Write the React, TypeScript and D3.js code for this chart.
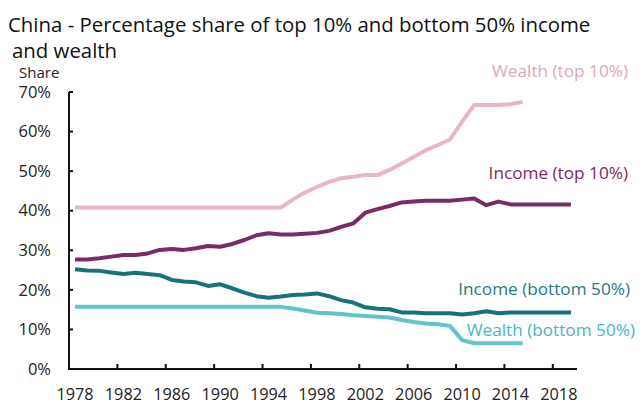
import React, { useEffect, useRef } from "react";
import * as d3 from "d3";

// years on the category axis
const years = d3.range(1978, 2020);
const tickYears = [1978, 1982, 1986, 1990, 1994, 1998, 2002, 2006, 2010, 2014, 2018];
const yTicks = [0, 10, 20, 30, 40, 50, 60, 70];

// shares in %
const wealthTop10 = [
  40.8, 40.8, 40.8, 40.8, 40.8, 40.8, 40.8, 40.8, 40.8, 40.8, 40.8, 40.8, 40.8, 40.8, 40.8, 40.8, 40.8, 40.8,
  42.8, 44.6, 46.0, 47.3, 48.2, 48.6, 49.0, 49.0, 50.3, 51.9, 53.6, 55.3, 56.6, 58.0, 62.5, 66.7, 66.7, 66.7, 66.9, 67.5,
];
const incomeTop10 = [
  27.7, 27.7, 28.0, 28.4, 28.8, 28.8, 29.2, 30.1, 30.3, 30.1, 30.5, 31.1, 30.9, 31.6, 32.6, 33.8, 34.3, 34.0,
  34.0, 34.2, 34.4, 34.9, 35.9, 36.8, 39.5, 40.4, 41.2, 42.1, 42.3, 42.5, 42.5, 42.5, 42.8, 43.1, 41.4, 42.3,
  41.6, 41.6, 41.6, 41.6, 41.6, 41.6,
];
const incomeBottom50 = [
  25.2, 24.9, 24.8, 24.4, 24.0, 24.3, 24.0, 23.7, 22.5, 22.1, 21.9, 21.0, 21.4, 20.4, 19.3, 18.4, 18.0, 18.3,
  18.7, 18.8, 19.1, 18.4, 17.4, 16.8, 15.6, 15.2, 15.1, 14.3, 14.3, 14.1, 14.1, 14.1, 13.8, 14.1, 14.6, 14.1,
  14.3, 14.3, 14.3, 14.3, 14.3, 14.3,
];
const wealthBottom50 = [
  15.7, 15.7, 15.7, 15.7, 15.7, 15.7, 15.7, 15.7, 15.7, 15.7, 15.7, 15.7, 15.7, 15.7, 15.7, 15.7, 15.7, 15.7,
  15.3, 14.8, 14.2, 14.1, 13.9, 13.6, 13.4, 13.2, 13.0, 12.4, 11.9, 11.5, 11.3, 10.9, 7.3, 6.5, 6.5, 6.5, 6.5, 6.5,
];

const series = [
  { name: "Wealth (top 10%)", values: wealthTop10, color: "#e9b5c8", label: "#dba8bb", lx: 628, ly: 77 },
  { name: "Income (top 10%)", values: incomeTop10, color: "#7b2a63", label: "#7b2a63", lx: 628, ly: 179 },
  { name: "Income (bottom 50%)", values: incomeBottom50, color: "#17737a", label: "#1f7b82", lx: 630, ly: 295 },
  { name: "Wealth (bottom 50%)", values: wealthBottom50, color: "#62c3cb", label: "#49b6bf", lx: 635, ly: 336 },
];

const font = "'Open Sans', sans-serif";

export default function App() {
  const ref = useRef<SVGSVGElement>(null);

  useEffect(() => {
    const svg = d3.select(ref.current);
    svg.selectAll("*").remove();

    const x = d3.scaleBand<number>().domain(years).range([69, 577]);
    const y = d3.scaleLinear().domain([0, 70]).range([369, 92]);
    const cx = (yr: number) => (x(yr) as number) + x.bandwidth() / 2;

    // title
    svg.append("text").attr("x", 8).attr("y", 32).attr("font-size", 20.4)
      .attr("fill", "#111").attr("font-family", font)
      .text("China - Percentage share of top 10% and bottom 50% income");
    svg.append("text").attr("x", 12).attr("y", 58).attr("font-size", 20.4)
      .attr("fill", "#111").attr("font-family", font).text("and wealth");
    svg.append("text").attr("x", 19).attr("y", 77.5).attr("font-size", 15)
      .attr("fill", "#222").attr("font-family", font).text("Share");

    // lines
    const line = d3.line<number>()
      .x((d, i) => cx(years[i]))
      .y((d) => y(d));
    series.forEach((s) => {
      svg.append("path").datum(s.values).attr("d", line)
        .attr("fill", "none").attr("stroke", s.color)
        .attr("stroke-width", 4).attr("stroke-linejoin", "round");
      svg.append("text").attr("x", s.lx).attr("y", s.ly)
        .attr("text-anchor", "end").attr("font-size", 17.2)
        .attr("fill", s.label).attr("font-family", font).text(s.name);
    });

    // axes
    const axis = svg.append("g").attr("stroke", "#111").attr("stroke-width", 2);
    axis.append("line").attr("x1", 69).attr("x2", 69).attr("y1", 92).attr("y2", 369);
    axis.append("line").attr("x1", 68).attr("x2", 577).attr("y1", 369).attr("y2", 369);
    yTicks.forEach((t) => {
      axis.append("line").attr("x1", 69).attr("x2", 73).attr("y1", y(t)).attr("y2", y(t));
      svg.append("text").attr("x", 51).attr("y", y(t)).attr("dy", "0.35em")
        .attr("text-anchor", "end").attr("font-size", 16.5).attr("fill", "#222")
        .attr("font-family", font).text(t + "%");
    });
    tickYears.forEach((t) => {
      const tx = x(t) as number;
      if (t > 1978) axis.append("line").attr("x1", tx).attr("x2", tx).attr("y1", 369).attr("y2", 364);
      svg.append("text").attr("x", cx(t)).attr("y", 399.5)
        .attr("text-anchor", "middle").attr("font-size", 16.3).attr("fill", "#222")
        .attr("font-family", font).text(t);
    });
  }, []);

  return <svg ref={ref} width={640} height={403} style={{ position: "absolute", left: 0, top: 0 }}></svg>;
}
